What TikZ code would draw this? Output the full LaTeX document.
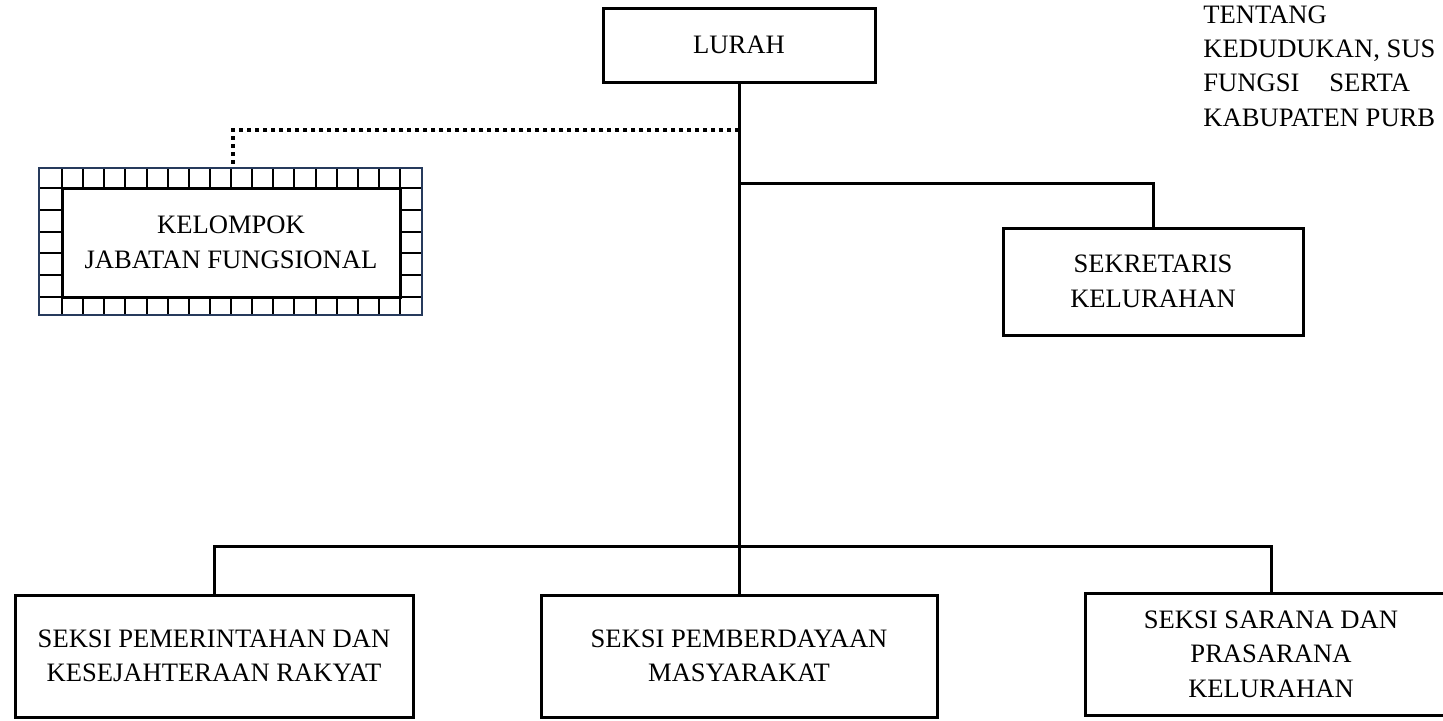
\documentclass[tikz,border=0pt]{standalone}
\usepackage{fontspec}
\setmainfont{Liberation Serif}
\usepackage{tikz}
\usetikzlibrary{positioning,calc}
\definecolor{frameblue}{RGB}{38,58,92}

\begin{document}
\begin{tikzpicture}[x=0.5pt,y=-0.5pt,
    font=\fontsize{13.3}{17.2}\selectfont,
    unit/.style={draw,line width=1.5pt,fill=white,align=center,inner sep=2pt},
    conn/.style={line width=1.5pt},
    dotconn/.style={line width=1.7pt,dash pattern=on 2pt off 2pt},
    gridline/.style={line width=1pt}]
  \useasboundingbox (0,0) rectangle (1443,720);
  \clip (0,0) rectangle (1443,720);

  \node[unit,minimum width=136pt,minimum height=37pt] (lurah) at (739,45) {LURAH};
  \node[unit,minimum width=150pt,minimum height=53.5pt] (sekkel) at (1153,281.5)
    {SEKRETARIS\\KELURAHAN};
  \node[unit,minimum width=199pt,minimum height=61pt] (sekpem) at (214,656)
    {SEKSI PEMERINTAHAN DAN\\KESEJAHTERAAN RAKYAT};
  \node[unit,minimum width=198pt,minimum height=61pt] (sekpmm) at (739,656)
    {SEKSI PEMBERDAYAAN\\MASYARAKAT};
  \node[unit,minimum width=186pt,minimum height=61pt] (seksar) at (1271,654)
    {SEKSI SARANA DAN\\PRASARANA\\KELURAHAN};

  \foreach \i in {0,...,16}
    \draw[gridline] ({62+21.125*\i},169) -- ({62+21.125*\i},314);
  \foreach \j in {0,...,5}
    \draw[gridline] (40,{188+21.8*\j}) -- (421,{188+21.8*\j});
  \node[draw=frameblue,line width=1pt,minimum width=191.5pt,minimum height=73.5pt]
    (kjfout) at (230.5,241.5) {};
  \node[unit,minimum width=169pt,minimum height=54.5pt] (kjf) at (231,242.5)
    {KELOMPOK\\JABATAN FUNGSIONAL};

  \coordinate (dotpt) at (739,130);
  \coordinate (sekpt) at (739,183);
  \coordinate (bus) at (739,546);

  \draw[conn] (lurah.south) -- (bus);
  \draw[conn] (sekpt) -| (sekkel.north);
  \draw[conn] (sekpem.north) |- (bus) -| (seksar.north);
  \draw[conn] (bus) -- (sekpmm.north);
  \draw[dotconn] (dotpt) -| ([xshift=1.25pt]kjfout.north);

  \node[anchor=north west,align=left,inner sep=0pt] (perda) at (1203,5)
    {TENTANG\\KEDUDUKAN, SUS\\FUNGSI\hspace{15pt}SERTA\\KABUPATEN PURB};
\end{tikzpicture}
\end{document}
